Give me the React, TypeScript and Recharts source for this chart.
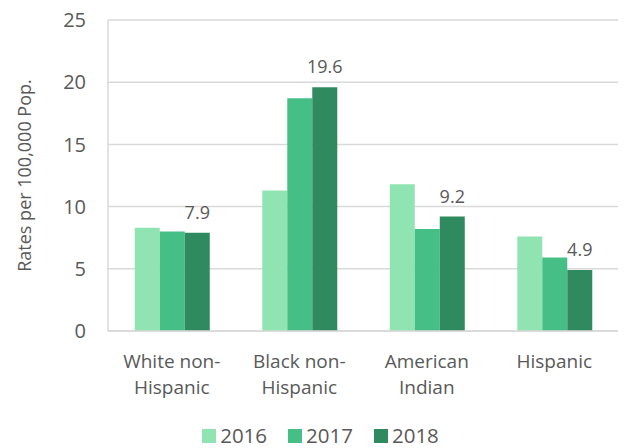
import { BarChart, Bar, XAxis, YAxis, CartesianGrid, LabelList, Legend } from "recharts";

const groups = ["White non-Hispanic", "Black non-Hispanic", "American Indian", "Hispanic"];
const groupLines = [["White non-", "Hispanic"], ["Black non-", "Hispanic"], ["American", "Indian"], ["Hispanic"]];
const years = ["2016", "2017", "2018"];
const rates2016 = [8.3, 11.3, 11.8, 7.6];
const rates2017 = [8.0, 18.7, 8.2, 5.9];
const rates2018 = [7.9, 19.6, 9.2, 4.9];
const yTicks = [0, 5, 10, 15, 20, 25];

const COLORS = ["#90E4B1", "#46BF86", "#2F8B5F"];
const TEXT = "#595959";
const FONT = "'Open Sans', 'Liberation Sans', sans-serif";

const data = groups.map((name, i) => ({
  name,
  y2016: rates2016[i],
  y2017: rates2017[i],
  y2018: rates2018[i],
}));

const GroupTick = ({ x, y, index }: any) => {
  const lines = groupLines[index] || [];
  return (
    <g transform={`translate(${x},${y})`}>
      {lines.map((ln, k) => (
        <text key={k} x={0} y={29 + k * 26} textAnchor="middle" fill={TEXT} fontSize={19} fontFamily={FONT}>
          {ln}
        </text>
      ))}
    </g>
  );
};

const LegendBox = () => (
  <div
    style={{
      display: "flex",
      justifyContent: "center",
      gap: 21,
      fontFamily: FONT,
      fontSize: 20.5,
      lineHeight: "27px",
      color: TEXT,
      paddingLeft: 23,
      paddingTop: 17,
    }}
  >
    {years.map((yr, i) => (
      <div key={yr} style={{ display: "flex", alignItems: "center" }}>
        <span style={{ display: "inline-block", width: 14, height: 14, background: COLORS[i], marginRight: 4 }} />
        {yr}
      </div>
    ))}
  </div>
);

export default function App() {
  return (
    <div style={{ position: "absolute", left: 0, top: 0, width: 625, height: 448, background: "#fff" }}>
      <BarChart
        width={625}
        height={448}
        data={data}
        margin={{ top: 20, right: 7, left: 0, bottom: 0 }}
        barGap={0}
        barCategoryGap="21%"
      >
        <CartesianGrid vertical={false} stroke="#D9D9D9" strokeWidth={1.5} />
        <XAxis
          dataKey="name"
          tick={<GroupTick />}
          tickLine={false}
          axisLine={{ stroke: "#D9D9D9", strokeWidth: 1.5 }}
          height={74}
          interval={0}
        />
        <YAxis
          domain={[0, 25]}
          ticks={yTicks}
          width={108}
          tickLine={false}
          axisLine={{ stroke: "#D9D9D9", strokeWidth: 1.5 }}
          tick={{ fill: TEXT, fontSize: 20, fontFamily: FONT, dx: -14 }}
          label={{
            value: "Rates per 100,000 Pop.",
            angle: -90,
            position: "insideLeft",
            offset: 25,
            style: { textAnchor: "middle", fill: TEXT, fontSize: 18, fontFamily: FONT },
          }}
        />
        <Legend verticalAlign="bottom" height={43} content={<LegendBox />} />
        <Bar dataKey="y2016" name={years[0]} fill={COLORS[0]} isAnimationActive={false} />
        <Bar dataKey="y2017" name={years[1]} fill={COLORS[1]} isAnimationActive={false} />
        <Bar dataKey="y2018" name={years[2]} fill={COLORS[2]} isAnimationActive={false}>
          <LabelList dataKey="y2018" position="top" offset={14} fill={TEXT} fontSize={18} fontFamily={FONT} />
        </Bar>
      </BarChart>
    </div>
  );
}
